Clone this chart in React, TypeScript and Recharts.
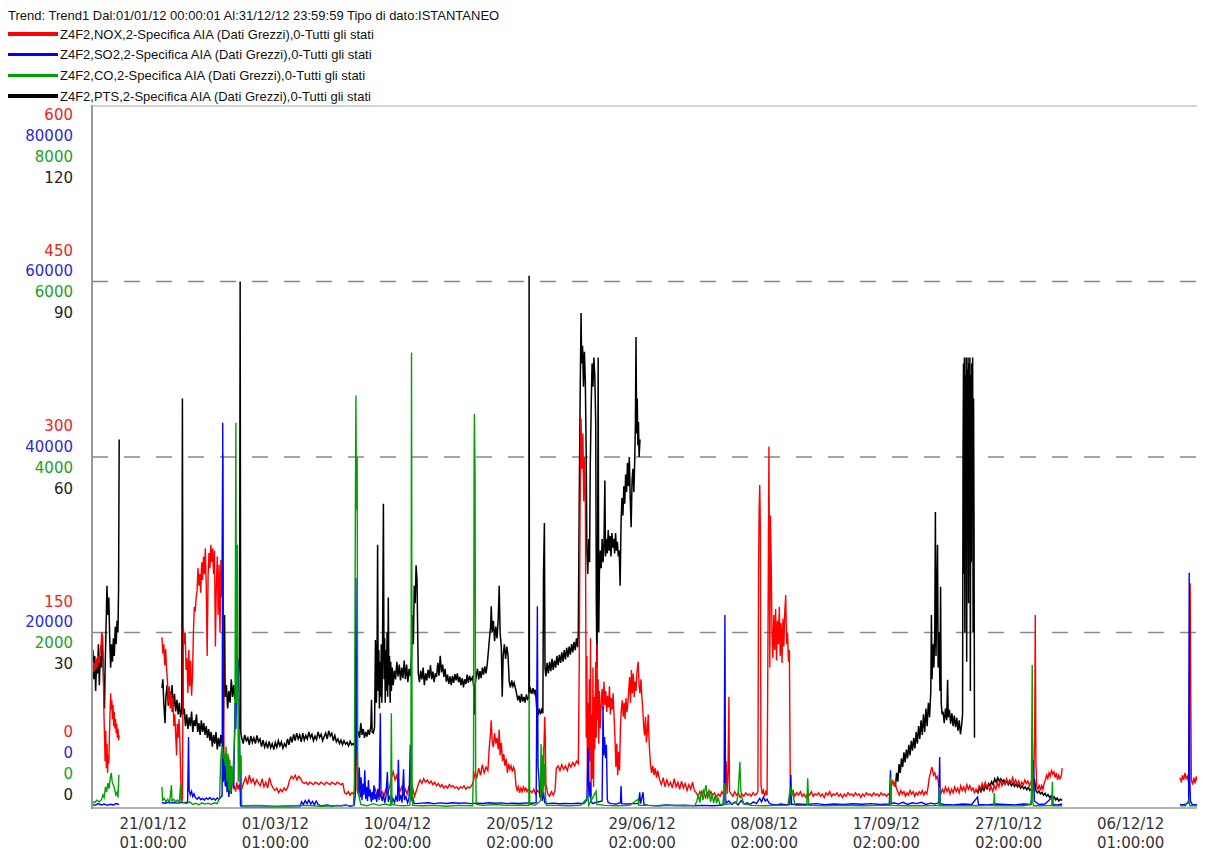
import React from 'react';
import { LineChart, Line, XAxis, YAxis, ReferenceLine } from 'recharts';

type Pt = [number, number | null];

// x axis: day of the year 2012 (0 = 01/01 00:00)
const tickDays = [20.04, 60.04, 100.08, 140.08, 180.08, 220.08, 260.08, 300.08, 340.04];
const tickDates = ['21/01/12', '01/03/12', '10/04/12', '20/05/12', '29/06/12', '08/08/12', '17/09/12', '27/10/12', '06/12/12'];
const tickTimes = ['01:00:00', '01:00:00', '02:00:00', '02:00:00', '02:00:00', '02:00:00', '02:00:00', '02:00:00', '01:00:00'];

// y axis labels, one scale per series
const noxTicks = [0, 150, 300, 450, 600];
const so2Ticks = [0, 20000, 40000, 60000, 80000];
const coTicks = [0, 2000, 4000, 6000, 8000];
const ptsTicks = [0, 30, 60, 90, 120];

const legendNames = [
  'Z4F2,NOX,2-Specifica AIA (Dati Grezzi),0-Tutti gli stati',
  'Z4F2,SO2,2-Specifica AIA (Dati Grezzi),0-Tutti gli stati',
  'Z4F2,CO,2-Specifica AIA (Dati Grezzi),0-Tutti gli stati',
  'Z4F2,PTS,2-Specifica AIA (Dati Grezzi),0-Tutti gli stati',
];

const ptsData: Pt[] = [
  [0,24],[0.3,27],[0.6,22],[0.9,26],[1.2,20],[1.5,25],[1.8,23],[2.1,28],[2.4,21],[2.7,26],[3,24],[3.3,29],[3.6,25],[3.9,20],[4.1,17],[4.3,24],[4.6,31],[4.9,38],[5.2,33],[5.5,36],[5.8,29],[6.1,24],[6.4,28],[6.7,25],[7,29],[7.3,26],[7.6,31],[7.9,28],[8.2,32],[8.5,30],[8.7,37.5],[8.9,63],[9.2,null],
  [22.9,20.5],[23.2,22],[23.5,18],[23.9,14.5],[24.2,19],[24.6,21],[25,17.5],[25.4,20],[25.8,18],[26.2,21],[26.6,17],[27,19.5],[27.4,16.5],[27.8,18.5],[28.2,16],[28.6,18],[29,15.5],[29.4,17],[29.6,70],[29.8,16],
  [30.2,17],[30.6,14],[31,16],[31.4,13.5],[31.8,15.5],[32.2,14],[32.6,16.5],[33,13],[33.4,15],[33.8,14],[34.2,16],[34.6,13],[35,14.5],[35.4,12.5],[35.8,15],[36.2,13],[36.6,14.5],[37,12.5],[37.4,14],[37.8,12],[38.2,13.5],[38.6,11.5],[39,13],[39.4,10.5],[39.8,12.5],
  [40.2,11],[40.6,13],[41,10],[41.4,12],[41.8,10.5],[42.2,12.5],[42.6,11],
  [43,14],[43.4,33],[43.6,19],[44,21],[44.4,17],[44.8,20],[45.2,18],[45.6,22],[46,19],[46.4,21],[46.8,18.5],[47.2,22],[47.6,20],[48,23],[48.3,25],[48.5,90],[48.7,13],
  [49,12],[49.5,11],[50,12.5],[50.5,11.5],[51,12],[51.5,10.8],[52,12.3],[52.5,11.2],[53,12],[53.5,11],[54,12.4],[54.5,11.3],[55,11.8],[55.5,10.5],[56,11.6],[56.5,10.4],[57,11.2],[57.5,10.2],[58,11.4],[58.5,10.3],[59,11],[59.5,10],[60,11.2],[60.5,10.4],[61,11.5],[61.5,10.6],[62,11.3],[62.5,10.2],[63,11],[63.5,10.5],[64,11.8],[64.5,10.8],[65,12.2],[65.5,11.2],[66,12.6],[66.5,11.5],[67,12.8],[67.5,11.8],[68,12.5],[68.5,11.3],[69,12.8],[69.5,11.6],[70,12.4],[70.5,11.8],[71,13],[71.5,12],[72,12.6],[72.5,11.5],[73,12.3],[73.5,11.7],[74,13],[74.5,12.1],[75,12.6],[75.5,11.5],[76,12.2],[76.5,12.8],[77,11.8],[77.5,13.2],[78,12.3],[78.5,12.8],[79,11.5],[79.5,12.4],[80,11.3],[80.5,11.8],[81,11],[81.5,11.6],[82,10.8],[82.5,11.5],[83,10.9],[83.5,11.2],[84,10.6],[84.5,11.4],[85,10.8],[85.5,11],[86,10.6],[86.4,11.2],[86.6,26],[86.8,13],
  [87.2,13],[87.6,12],[88,14.5],[88.4,12.5],[88.8,13.5],[89.2,12],[89.6,13],[90,12.2],[90.4,13.4],[90.8,12.5],[91.3,14],[91.5,18.5],[91.7,13],[92.1,12.8],[92.5,13.8],[92.8,28.7],
  [93.1,18],[93.3,24],[93.5,45],[93.7,20],[93.9,27],[94.1,17],[94.3,25],[94.5,19],[94.7,28],[94.9,18],[95.1,26],[95.4,52],[95.6,22],[95.8,29],[96,18],[96.2,27],[96.4,20],[96.6,30],[96.8,19],[97,36],[97.2,21],[97.4,26],[97.6,18],[97.8,25],[98,20],[98.3,24],[98.6,21],
  [99,23.5],[99.4,22],[99.8,25],[100.2,22.5],[100.6,24.5],[101,21.8],[101.4,24],[101.8,22.2],[102.2,25.2],[102.6,22],[103,24.5],[103.4,21.5],[103.8,23.8],[104.2,22.5],[104.6,26],
  [104.9,33],[105.2,28],[105.5,38],[105.8,35],[106.1,41.5],[106.4,39],
  [106.8,23],[107.2,21.5],[107.6,23.5],[108,22],[108.4,24],[108.8,21],[109.2,23],[109.6,21.8],[110,23.6],[110.4,22.2],[110.8,24.4],[111.2,22],[111.6,23.3],[112,21.5],[112.4,23],[112.8,22.4],[113.2,24.8],[113.6,22.6],[114,26],[114.4,23.2],[114.8,24.5],[115.2,22.4],[115.6,23.8],[116,21.6],[116.4,22.8],[116.8,21.2],[117.2,22.5],[117.6,21],[118,22.6],[118.4,21.4],[118.8,22.9],[119.2,21.8],[119.6,23],[120,21.5],[120.4,22.4],[120.8,21],[121.2,22.2],[121.6,20.6],[122,22],[122.4,21.2],[122.8,22.8],[123.2,21.4],[123.6,22.6],[124,21.8],
  [124.6,22.4],[125,20.5],[125.2,16],[125.4,21],
  [125.8,22.6],[126.2,23.8],[126.6,22],[127,23.4],[127.4,22.2],[127.8,24],[128.2,22.8],[128.6,24.2],[129,23],[129.4,24.6],
  [129.8,27],[130.2,29.5],[130.5,31],[130.7,34.5],[131,30],[131.4,32],[131.8,28.5],[132.2,31],[132.6,29],[133,32.5],[133.3,38],[133.6,30],[134,27.5],[134.3,19],[134.6,26],[135,28],[135.4,25.5],[135.8,27.6],[136.2,26],
  [136.6,21.5],[137,20.6],[137.4,21.8],[137.8,20.8],[138.2,21.4],[138.6,20.5],
  [139,19.6],[139.4,18.4],[139.8,19.2],[140.2,18],[140.6,19.5],[141,18.2],[141.4,19],[141.8,18],[142.2,19.4],[142.6,18.6],[143,18.9],[143.1,91],[143.2,19.5],
  [143.6,20.3],[144,19.5],[144.4,20.5],[144.8,19.6],[145.2,20.2],
  [145.6,16.8],[146,15.8],[146.4,17],[146.8,16],[147.2,16.8],[147.6,16.2],[147.8,39.7],[148.1,48.7],[148.3,24],
  [148.6,22.5],[149,24.8],[149.4,23],[149.8,25],[150.2,23.4],[150.6,25.5],[151,23.6],[151.4,25.2],[151.8,24],[152.2,26],[152.6,24.4],[153,26.2],[153.4,24.8],[153.8,26.6],[154.2,25],[154.6,27],[155,25.4],[155.4,27.4],[155.8,25.8],[156.2,27.6],[156.6,26.2],[157,28],[157.4,26.6],[157.8,28.4],[158.2,27],[158.6,29],[159,27.5],
  [159.2,30],[159.5,52],[159.8,70],[160.1,84.6],[160.3,76],[160.6,79],[160.9,72],[161.2,78],[161.5,73],[161.8,60],[162,44],[162.3,40],[162.6,46],[162.9,42],[163.1,58],[163.4,68],[163.7,76],[164,72],[164.3,77],[164.6,74],[164.9,66],[165.1,35],[165.3,24],[165.5,38],[165.7,77],[165.9,30],[166.1,40],[166.4,44],[166.7,41],[167,46],[167.3,42],[167.6,45],[167.9,56],[168.1,43],[168.4,46],[168.7,43.5],[169,47.5],[169.3,44],[169.6,46.5],[169.9,43],[170.2,47],[170.5,44.5],[170.8,46],[171.1,43.5],[171.4,47],[171.7,44],[172,45.5],[172.3,43],[172.6,44],[172.9,38],[173.2,49],[173.5,53],[173.8,50],[174.1,55],[174.4,52],[174.7,57],[175,54],[175.3,59],[175.6,55],[175.9,60],[176.2,53],[176.5,48],[176.8,56],[177.1,58],[177.4,54],[177.7,60],[177.9,66],[178.1,80.5],[178.3,64],[178.5,70],[178.7,62],[178.9,66],[179.1,60],[179.4,63],[179.6,null],
  [262.7,4.3],[263,3.6],[263.4,6],[263.8,4.5],[264.2,7.5],[264.6,6],[265,8.5],[265.4,7],[265.8,9.5],[266.2,7.8],[266.6,10],[267,8.5],[267.4,10.8],[267.8,9],[268.2,11.5],[268.6,9.8],[269,12],[269.4,10.2],[269.8,13],[270.2,11],[270.6,14],[271,11.8],[271.4,15],[271.8,12.5],[272.2,16],[272.6,13],[273,17],[273.4,14],[273.8,18],[274.2,15.5],
  [274.6,20],[274.8,33],[275,22],[275.3,28],[275.6,24],[275.9,30],[276.1,50.6],[276.3,26],[276.5,34],[276.8,45],[277,24],[277.3,30],[277.6,20],[277.8,37.8],[278,18],[278.3,16],
  [278.6,16.5],[279,14.5],[279.4,17],[279.8,15],[280.1,21.9],[280.3,15.5],[280.7,16.8],[281.1,14.4],[281.5,16.2],[281.9,14],[282.3,15.8],[282.7,13.8],[283.1,15.4],[283.5,13.2],[283.9,15],[284.3,12.6],[284.7,14.2],
  [285,16],[285.15,60],[285.3,76],[285.45,40],[285.6,77],[285.75,30],[285.9,74],[286.05,45],[286.2,77],[286.35,25],[286.5,75],[286.65,50],[286.8,77],[286.95,35],[287.1,76],[287.25,55],[287.4,77],[287.55,20],[287.7,74],[287.85,42],[288,76],[288.15,58],[288.3,77],[288.45,30],[288.6,70],[288.75,48],[288.9,12],[289.1,null],
  [289.5,3],[290,2.6],[290.5,3.4],[291,2.8],[291.5,3.6],[292,3],[292.5,3.8],[293,3.3],[293.5,4.2],[294,3.8],
  [294.5,4.5],[295,4],[295.5,5],[296,4.4],[296.5,5.2],[297,4.6],[297.5,5],[298,4.5],[298.5,4.8],
  [299,4.2],[299.5,4.6],[300,4],[300.5,4.4],[301,3.8],[301.5,4.3],[302,3.7],[302.5,4.1],[303,3.6],[303.5,4],[304,3.4],[304.5,3.8],[305,3.3],[305.5,3.6],[306,3.1],[306.5,3.5],[307,3],[307.5,3.3],[308,2.9],[308.5,5],
  [309,3],[309.5,2.6],[310,2.9],[310.5,2.4],[311,2.7],[311.5,2.2],[312,2.5],[312.5,2],[313,2.3],[313.5,1.8],[314,2.1],[314.5,1.6],[315,1.9],[315.5,1.4],[316,1.7],[316.5,1.2],[317,1.5],[317.6,1.3],
];

const noxData: Pt[] = [
  [0,120],[0.3,126],[0.6,116],[0.9,124],[1.2,118],[1.5,128],[1.8,120],[2.1,130],[2.4,124],[2.7,135],[3,140],[3.2,150],[3.5,146],[3.7,120],[3.9,82],[4.1,60],[4.3,40],[4.5,66],[4.7,34],[4.9,55],[5.1,30],[5.3,45],[5.5,38],[5.7,62],[5.9,80],[6.1,98],[6.3,84],[6.5,92],[6.7,76],[6.9,88],[7.1,70],[7.3,82],[7.5,68],[7.7,76],[7.9,64],[8.1,72],[8.3,60],[8.5,68],[8.7,58],[8.9,62],[9.1,null],
  [22.9,146],[23.2,132],[23.5,140],[23.8,122],[24.1,136],[24.4,120],
  [24.7,108],[25,90],[25.3,104],[25.6,85],[25.9,98],[26.2,82],[26.5,95],
  [26.8,70],[27.1,80],[27.4,62],[27.7,45],[27.9,72],[28.2,60],[28.5,76],
  [28.8,55],[29.1,20],[29.3,5],[29.6,8],
  [29.9,154],[30.2,140],[30.5,150],[30.8,118],
  [31.1,128],[31.4,98],[31.7,135],[32,104],[32.3,126],[32.6,96],[32.9,112],[33.2,150],
  [33.5,172],[33.8,168],[34.1,180],
  [34.4,186],[34.7,205],[35,190],[35.3,200],[35.6,184],[35.9,210],[36.2,195],[36.5,215],
  [36.8,200],[37.1,222],[37.4,190],[37.7,130],[38,198],[38.3,218],[38.6,205],[38.9,225],[39.2,210],[39.5,222],[39.8,200],[40.1,220],[40.4,138],[40.7,190],
  [41,215],[41.3,165],[41.6,208],[41.9,150],[42.2,212],[42.5,180],[42.8,302],[43,150],
  [43.2,48],[43.4,25],[43.6,40],[43.8,18],[44.1,35],[44.4,22],[44.7,44],[45,28],[45.3,36],[45.6,16],[45.9,30],[46.2,20],
  [46.6,18],[47,14],[47.4,22],[47.8,16],[48.2,20],[48.6,14],[49,16],
  [49.7,22],[50.3,26],[50.9,20],[51.5,28],[52.1,22],[52.7,25],[53.3,20],[53.9,24],[54.5,21],[55.1,19],[55.7,25],[56.3,18],[56.9,22],[57.5,17],[58.1,26],[58.7,20],[59.3,17],[59.9,15],[60.5,17],[61.1,13],[61.7,16],[62.3,14],[62.9,17],[63.5,15],[64.1,18],[64.7,24],[65.3,27],[65.9,25],[66.5,28],[67.1,24],[67.7,27],[68.3,25],[68.9,22],[69.5,21],[70.1,22],[70.7,20],[71.3,22],[71.9,21],[72.5,20],[73.1,22],[73.7,21],[74.3,20],[74.9,22],[75.5,21],[76.1,20],[76.7,22],[77.3,21],[77.9,20],[78.5,22],[79.1,21],[79.7,20],[80.3,22],[80.9,21],[81.5,20],[82.1,21],[82.7,13],[83.3,12],[83.9,14],[84.5,11],[85.1,13],[85.7,12],[86.2,14],[86.4,105],[86.6,100],[86.8,15],
  [87.2,12],[87.8,16],[88.4,10],[89,14],[89.6,18],[90.2,11],[90.8,15],[91.4,9],[92,13],[92.6,17],[93.2,12],[93.8,15],[94.4,10],[95,14],[95.6,11],[96.2,16],[96.8,12],
  [97.4,18],[98,26],[98.6,31],[99.2,24],[99.8,28],[100.3,20],
  [100.8,14],[101.4,18],[102,11],[102.6,16],[103.2,12],[103.8,19],[104.4,13],[105,17],[105.6,10],[106.2,15],
  [106.8,20],[107.4,24],[108,21],[108.6,25],[109.2,22],[109.8,24],[110.4,21],[111,23],[111.6,20],[112.2,22],[112.8,19],[113.4,21],[114,18],[114.6,20],[115.2,17],[115.8,19],[116.4,17],[117,20],[117.6,18],[118.2,19],[118.8,17],[119.4,18],[120,16],[120.6,18],[121.2,17],[121.8,19],[122.4,16],[123,18],[123.6,17],[124.2,19],
  [124.8,22],[125.4,30],[126,26],[126.6,34],[127.2,28],[127.8,37],[128.4,30],[129,35],[129.6,32],
  [130,50],[130.4,62],[130.7,75],[131,58],[131.4,52],[131.8,64],[132.2,55],[132.6,60],[133,50],[133.3,67],[133.6,45],[134,56],
  [134.4,40],[134.8,46],[135.2,36],[135.6,42],[136,30],
  [136.4,38],[136.8,33],[137.2,36],[137.6,31],[138,35],[138.4,32],
  [138.8,19],[139.2,15],[139.6,18],[140,13],[140.4,17],[140.8,14],[141.2,18],[141.6,15],[142,17],[142.4,14],[142.8,16],
  [143.4,15],[144,13],[144.6,16],[145.2,12],[145.8,15],[146.4,13],[147,16],[147.6,14],[148.2,78],[148.4,60],[148.6,20],
  [149.2,12],[149.8,10],[150.4,14],[151,11],[151.6,15],
  [152,34],[152.6,36],[153.2,32],[153.8,37],[154.4,33],[155,36],[155.6,32],[156.2,38],[156.8,35],[157.4,39],[158,36],[158.6,40],[159.2,38],
  [159.5,120],[159.8,260],[160.1,333],[160.4,290],[160.7,320],[161,262],[161.3,300],[161.5,270],[161.8,60],[162,130],[162.2,20],[162.4,90],
  [162.6,15],[162.8,110],[163,40],[163.2,145],[163.4,10],[163.6,80],[163.8,25],[164,120],[164.2,18],[164.4,95],[164.6,50],
  [164.9,125],[165.1,60],[165.3,140],[165.5,75],[165.7,110],[165.9,55],[166.1,100],[166.4,68],
  [166.7,90],[167,102],[167.3,84],[167.6,108],[167.9,88],[168.2,100],[168.5,82],[168.8,96],[169.1,86],[169.4,104],[169.7,80],[170,94],[170.3,84],[170.6,98],[170.9,79],
  [171.2,60],[171.5,35],[171.8,55],[172.1,28],[172.4,48],[172.7,32],[173,70],
  [173.3,85],[173.6,92],[173.9,78],[174.2,90],[174.5,76],[174.8,94],[175.1,82],[175.4,88],
  [175.7,100],[176,112],[176.3,90],[176.6,118],[176.9,98],[177.2,115],[177.5,95],[177.8,108],[178.1,100],[178.4,116],[178.8,125],[179.1,105],[179.4,98],
  [179.7,110],[180,96],[180.3,85],[180.6,70],[180.9,62],[181.2,78],[181.5,56],[181.8,66],[182.1,80],[182.4,55],
  [182.8,38],[183.2,30],[183.6,36],[184,28],[184.4,34],[184.8,26],[185.2,32],
  [185.8,24],[186.4,20],[187,26],[187.6,18],[188.2,24],[188.8,19],[189.4,22],[190,17],[190.6,25],[191.2,18],[191.8,22],[192.4,16],[193,23],[193.6,17],[194.2,21],[194.8,15],[195.4,20],[196,16],[196.6,22],[197.2,15],
  [197.8,13],[198.4,10],[199,14],[199.6,11],[200.2,15],[200.8,9],[201.4,13],[202,10],[202.6,14],[203.2,11],[203.8,13],[204.4,9],[205,12],[205.6,10],[206.2,14],[206.8,11],
  [207.2,13],[207.6,40],[207.9,12],[208.2,30],[208.5,95],[208.7,14],
  [209.2,12],[209.8,10],[210.4,14],[211,11],[211.6,13],[212.2,9],[212.8,12],[213.4,10],[214,13],[214.6,11],[215.2,12],[215.8,10],[216.4,13],[217,11],[217.6,12],
  [218,14],[218.2,200],[218.4,255],[218.6,276],[218.8,240],[219,20],[219.4,12],[219.8,15],[220.2,10],[220.6,14],[221,11],[221.3,150],[221.6,309],[221.9,120],[222.1,250],[222.2,233],[222.4,200],
  [222.6,150],[222.9,128],[223.2,165],[223.5,135],[223.8,170],[224.1,126],[224.4,160],[224.7,140],[225,172],[225.3,130],[225.6,158],[225.9,124],[226.2,162],[226.5,138],[226.8,168],[227.1,182],[227.4,140],[227.7,150],[228,125],[228.3,135],
  [228.6,20],[228.9,12],[229.5,15],[230.1,10],[230.7,13],[231.3,11],[231.9,14],[232.5,10],[233.1,12],[233.7,9],[234.3,13],[234.9,11],[235.5,14],[236.1,10],[236.7,12],[237.3,11],[237.9,13],[238.5,10],[239.1,12],[239.7,9],[240.3,13],[240.9,11],[241.5,14],[242.1,10],[242.7,12],[243.3,11],[243.9,13],[244.5,10],[245.1,12],[245.7,9],[246.3,12],[246.9,10],[247.5,13],[248.1,11],[248.7,12],[249.3,10],[249.9,13],[250.5,11],[251.1,12],[251.7,9],[252.3,12],[252.9,10],[253.5,13],[254.1,11],[254.7,12],[255.3,10],[255.9,13],[256.5,11],[257.1,12],[257.7,10],[258.3,13],[258.9,11],[259.5,12],[260.1,10],[260.7,12],[261.3,11],
  [261.7,18],[262.1,24],[262.5,20],[262.9,22],[263.3,17],[263.8,14],[264.3,11],[264.8,15],[265.3,12],[265.8,14],[266.3,10],[266.8,13],[267.3,11],[267.8,15],[268.3,12],[268.8,14],[269.3,10],[269.8,13],[270.3,11],[270.8,14],[271.3,12],[271.8,15],[272.3,11],[272.8,14],[273.3,12],
  [273.7,18],[274.1,26],[274.5,30],[274.9,35],[275.2,32],[275.5,28],[275.9,30],[276.3,25],[276.7,27],[277.1,22],[277.5,14],
  [277.9,12],[278.4,16],[278.9,13],[279.4,18],[279.9,14],[280.4,17],[280.9,12],[281.4,16],[281.9,13],[282.4,18],[282.9,14],[283.4,17],[283.9,13],[284.4,19],[284.9,15],[285.4,18],[285.9,14],[286.4,20],[286.9,16],[287.4,19],[287.9,15],[288.4,17],[288.9,13],[289.4,16],
  [289.9,14],[290.4,19],[290.9,16],[291.4,21],[291.9,17],[292.4,22],[292.9,18],[293.4,20],[293.9,15],[294.4,18],[294.9,14],[295.4,19],[295.9,16],[296.4,22],[296.9,18],[297.4,24],[297.9,19],[298.4,22],
  [298.9,20],[299.4,25],[299.9,21],[300.4,24],[300.9,22],[301.4,26],[301.9,21],[302.4,24],[302.9,20],[303.4,23],[303.9,19],[304.4,22],[304.9,20],[305.4,24],[305.9,21],[306.4,23],[306.9,19],[307.4,22],
  [308.2,20],[308.6,60],[308.8,165],[309,40],[309.3,18],
  [309.7,16],[310.1,20],[310.5,15],[310.9,19],[311.3,16],[311.7,21],
  [312.1,24],[312.5,28],[312.9,25],[313.3,30],[313.7,27],[314.1,32],[314.5,29],[314.9,31],[315.3,26],[315.7,30],
  [316.1,24],[316.5,28],[316.9,25],[317.3,27],[317.6,34],[317.9,null],
  [356.2,26],[356.6,22],[357,28],[357.4,24],[357.8,30],[358.2,25],[358.6,27],[359,22],[359.3,120],[359.5,192],[359.7,100],[359.9,24],[360.3,20],[360.7,26],[361.1,21],[361.5,27],[361.9,23],[362.3,25],[362.7,20],[363.1,24],[363.5,22],[364,25],[364.5,21],[365,24],[365.5,22],[366,23],
];

const so2Data: Pt[] = [
  [0,400],[1,300],[2,500],[3,350],[4,450],[5,300],[6,420],[7,350],[8,500],[8.8,400],[9.1,null],
  [22.9,600],[24,550],[25,650],[26,580],[27,620],[28,560],[29,640],[30,600],[31.3,650],[31.6,8100],[31.8,2000],[32.2,1500],[32.6,1900],[33,1300],[33.4,1600],[33.8,1200],[34.4,1000],[35,1250],[35.6,950],[36.2,1100],[36.8,900],[37.4,1150],[38,1000],[38.6,1200],[39.2,950],[39.8,1100],[40.4,900],[41,1150],[41.6,1000],[42.2,1250],[42.6,1400],[42.8,43900],[43,3000],[43.3,5800],[43.6,2500],[43.9,4500],[44.2,1800],[44.5,3800],[44.8,1250],[45.2,3000],[45.6,1600],[46,4200],[46.4,2200],[46.8,12000],[47.1,9000],[47.4,16500],[47.7,14000],[48,17000],[48.3,8000],[48.6,300],
  [49,100],[55,80],[60,120],[65,90],[68,100],
  [68.6,700],[69.2,400],[69.8,850],[70.4,500],[71,900],[71.6,450],[72.2,750],[72.8,350],[73.4,800],[74,420],[74.6,300],
  [75.5,250],[77,350],[78.5,200],[80,300],[81.5,250],[83,350],[84.5,200],[85.8,300],
  [86.2,1500],[86.4,26200],[86.6,8000],
  [86.9,4900],[87.2,1800],[87.5,4600],[87.8,1200],[88.1,3500],[88.4,900],[88.7,2800],[89,1500],[89.3,4300],[89.6,1000],[89.9,2400],[90.2,800],[90.5,3200],[90.8,1300],[91.1,2100],[91.4,700],[91.7,1800],[92,900],[92.3,2600],[92.6,1000],[92.9,1600],
  [93.2,700],[93.6,2200],[94,900],[94.4,10800],[94.6,1500],
  [95,800],[95.4,1600],[95.8,600],[96.2,1200],[96.7,4100],[97,700],[97.5,1400],[98,500],[98.5,1100],[99,600],[99.5,1300],[100,700],[100.3,5500],[100.6,800],[101,1500],[101.5,600],[102,4400],[102.3,900],[102.8,1300],[103.3,600],[103.8,1100],[104.2,7200],[104.5,900],[105,1200],[105.5,500],
  [106,500],[108,550],[110,600],[112,500],[114,580],[116,520],[118,600],[120,540],[122,580],[124,500],[126,560],[128,520],[130,600],[132,550],[134,580],[136,500],[138,560],[140,520],[142,580],[144,540],[145.4,600],
  [145.8,23000],[146,4900],[146.3,3500],[146.6,1200],[147,2500],[147.4,800],[147.8,1800],[148.2,600],
  [149,500],[151,550],[153,480],[155,520],[157,500],[159,540],[161,500],
  [162,900],[162.4,6800],[162.7,1200],[163,3000],[163.4,700],[164,500],[164.6,600],
  [167,800],[167.3,11600],[167.5,6000],[167.8,8100],[168.1,5700],[168.4,7200],[168.7,1000],[169,600],
  [170,500],[171.5,450],[173,600],[173.2,2500],[173.4,500],[175,450],[177,500],
  [178.9,500],[179.3,1800],[179.6,500],[180.4,1800],[180.7,400],
  [182,300],[185,250],[188,350],[191,280],[194,320],[197,250],[200,300],[203,260],[206,320],
  [206.9,400],[207.2,22000],[207.4,1000],[207.7,600],
  [208.5,800],[209.5,400],[210.5,700],[211.5,350],[212.5,850],[213.5,450],[214.5,600],[215.5,400],[216.5,700],[217.5,500],
  [218.6,1100],[219.2,700],[219.8,1250],[220.4,800],[221,1000],[221.6,600],
  [222.5,400],[224,350],[225.5,450],[227,380],[228.4,400],[228.8,3800],[229,400],
  [231,450],[234,400],[237,500],[240,380],[243,450],[246,400],[249,480],[252,420],[255,500],[258,400],[261,450],
  [261.4,4300],[261.6,500],
  [262.5,600],[264,450],[265.5,650],[267,400],[268.5,600],[270,500],[271.5,650],[273,400],[274.5,550],[276,450],[277.2,600],
  [277.5,5800],[277.7,500],
  [279,400],[282,350],[285,450],[288,400],[289.9,1250],[290.2,400],[293,350],[296,450],[299,400],[302,350],[305,450],[307.3,400],
  [307.8,1500],[308.2,5500],[308.5,800],
  [310,400],[312,450],[314.4,1250],[314.6,400],[316,350],[317.6,450],[317.9,null],
  [356.2,400],[357,350],[358,450],[359,600],[359.2,26800],[359.4,3000],[359.6,800],[360.2,400],[361.5,350],[363,450],[364.5,400],[366,350],
];

const coData: Pt[] = [
  [0,80],[0.8,60],[1.6,90],[2.4,70],[3.2,100],[3.6,150],[4,120],[4.4,240],[4.8,180],[5.2,285],[5.6,220],[6,350],[6.3,400],[6.6,300],[7,260],[7.4,220],[7.8,150],[8.2,180],[8.5,120],[8.8,380],[9.1,null],
  [22.9,240],[23.1,90],[23.6,110],[24.2,70],[24.8,100],[25.4,60],[26,260],[26.2,80],[26.8,100],[27.4,70],[28,90],[28.6,60],[29,270],[29.2,80],[30,60],[31,50],[32,70],[33,40],[34,55],[35,35],[36,60],[37,45],[38,55],[39,40],[40,60],[41,50],[41.8,120],
  [42.1,520],[42.4,650],[42.7,700],[43,560],[43.3,620],
  [43.6,480],[43.9,700],[44.2,300],[44.5,620],[44.8,200],[45.1,550],[45.4,170],[45.7,480],[46,250],[46.4,600],
  [46.8,900],[47.1,4390],[47.3,1200],[47.6,3000],[47.9,300],[48.2,900],[48.5,400],[48.8,600],[49,25],
  [50,25],[55,30],[60,20],[65,25],[70,30],[75,20],[80,25],[85.6,30],
  [85.9,300],[86.2,3200],[86.4,4700],[86.6,3400],[86.8,4000],[87,200],
  [88,40],[90,25],[92,50],[94,30],[96,45],[97.8,30],
  [98,1080],[98.2,40],
  [100,30],[102,25],[104,30],
  [104.4,200],[104.6,5190],[104.8,300],[105,30],
  [108,25],[112,30],[116,20],[120,30],[124.6,25],
  [124.9,490],[125.1,4000],[125.2,4490],[125.4,3800],[125.6,450],[125.8,40],
  [128,30],[132,40],[136,30],[140,35],[143,30],[143.1,1320],[143.3,40],[145,30],[146.8,80],[147,730],[147.2,200],[147.4,600],[147.6,150],[147.8,700],[148,250],[148.2,500],[148.5,100],[148.8,30],
  [152,30],[156,25],[160,30],[162.4,125],[162.6,30],[165,190],[165.3,40],[168,30],[172,25],[176,30],[178.8,100],[179,30],
  [182,30],[186,25],[190,30],[194,25],[197.4,30],
  [198,80],[198.5,150],[199,60],[199.5,200],[200,90],[200.5,180],[201,260],[201.5,100],[202,210],[202.5,70],[203,160],[203.5,55],[204,140],[204.5,60],[205,120],[205.5,40],
  [206.5,40],[207.2,285],[207.5,40],
  [211,60],[211.5,150],[212.1,525],[212.4,200],[212.8,120],[213.3,50],
  [216,30],[220,25],[224,30],[227.8,30],
  [228.2,125],[228.6,240],[229,130],[229.4,200],[229.8,90],[230.2,30],
  [234,30],[234.3,340],[234.6,30],
  [240,25],[246,30],[252,25],[258,30],[261.2,30],[261.4,350],[261.6,30],
  [266,25],[272,25],[277.3,30],[277.5,240],[277.7,25],
  [284,25],[290,25],[295.2,30],[295.4,170],[295.6,25],
  [300,25],[305,25],[307.5,40],[307.8,1630],[308,60],[308.3,25],
  [311,25],[314.2,30],[314.4,300],[314.6,25],[317.6,25],[317.9,null],
  [356.2,25],[358,25],[359.2,100],[359.4,25],[362,25],[366,25],
];

const toRows = (pts: Pt[]) => pts.map(([day, value]) => ({ day, value }));

const COLORS = { nox: '#ff0000', so2: '#0000ff', co: '#00a000', pts: '#000000' };
const LABEL_COLORS = ['#ee2222', '#2a2ad8', '#22a022', '#222222'];
const legendColors = [COLORS.nox, COLORS.so2, COLORS.co, COLORS.pts];

const axisFont = '"DejaVu Sans", Verdana, sans-serif';

// four stacked labels per gridline (NOX / SO2 / CO / PTS)
const YTick = (props: any) => {
  const { y, index } = props;
  const labels = [noxTicks[index], so2Ticks[index], coTicks[index], ptsTicks[index]];
  let offsets = [-31, -10.5, 10.5, 31.5];
  if (index === 0) offsets = [-76, -55, -34, -13];
  if (index === noxTicks.length - 1) offsets = [9, 30, 51, 72];
  return (
    <g>
      {labels.map((l, i) => (
        <text key={i} x={65} y={y + offsets[i]} dy={5} textAnchor="end"
          fill={LABEL_COLORS[i]} fontSize={15} fontFamily={axisFont}>
          {l}
        </text>
      ))}
    </g>
  );
};

const XTick = (props: any) => {
  const { x, index } = props;
  return (
    <g>
      <text x={x} y={821} textAnchor="middle" fill="#333" fontSize={15} fontFamily={axisFont}>{tickDates[index]}</text>
      <text x={x} y={840} textAnchor="middle" fill="#333" fontSize={15} fontFamily={axisFont}>{tickTimes[index]}</text>
    </g>
  );
};

export default function App() {
  return (
    <div style={{ position: 'relative', width: 1197, height: 844, overflow: 'hidden', background: '#fff' }}>
      <LineChart width={1250} height={844} margin={{ top: 98, right: 48, bottom: 0, left: 0 }}>
        <XAxis xAxisId={0} type="number" dataKey="day" domain={[0, 366]} ticks={tickDays}
          allowDataOverflow height={44} axisLine={{ stroke: '#999', strokeWidth: 1.5 }}
          tickLine={false} tick={(p: any) => <XTick {...p} />} interval={0} />
        <YAxis yAxisId="nox" type="number" domain={[0, 600]} ticks={noxTicks} width={84}
          allowDataOverflow axisLine={false} tickLine={false}
          tick={(p: any) => <YTick {...p} />} interval={0} />
        <YAxis yAxisId="so2" type="number" domain={[0, 80000]} allowDataOverflow hide width={0} />
        <YAxis yAxisId="co" type="number" domain={[0, 8000]} allowDataOverflow hide width={0} />
        <YAxis yAxisId="pts" type="number" domain={[0, 120]} allowDataOverflow hide width={0} />
        <ReferenceLine yAxisId="nox" y={600} stroke="#aaa" strokeWidth={1.2} />
        {noxTicks.slice(1, -1).map((t) => (
          <ReferenceLine key={t} yAxisId="nox" y={t} stroke="#888" strokeWidth={1.5} strokeDasharray="16 16" />
        ))}
        <Line yAxisId="pts" data={toRows(ptsData)} dataKey="value" stroke={COLORS.pts} strokeWidth={1.5}
          dot={false} isAnimationActive={false} />
        <Line yAxisId="nox" data={toRows(noxData)} dataKey="value" stroke={COLORS.nox} strokeWidth={1.4}
          dot={false} isAnimationActive={false} />
        <Line yAxisId="so2" data={toRows(so2Data)} dataKey="value" stroke={COLORS.so2} strokeWidth={1.4}
          dot={false} isAnimationActive={false} />
        <Line yAxisId="co" data={toRows(coData)} dataKey="value" stroke={COLORS.co} strokeWidth={1.4}
          dot={false} isAnimationActive={false} />
      </LineChart>

      {/* left frame of the plot area */}
      <div style={{ position: 'absolute', left: 83.25, top: 97, width: 1.5, height: 704, background: '#999' }} />

      <div style={{ position: 'absolute', left: 0, top: 0, fontFamily: '"Liberation Sans", Arial, sans-serif', fontSize: 13, color: '#111' }}>
        <div style={{ position: 'absolute', left: 0, top: 0, whiteSpace: 'nowrap', lineHeight: '15px' }}>
          Trend: Trend1 Dal:01/01/12 00:00:01 Al:31/12/12 23:59:59 Tipo di dato:ISTANTANEO
        </div>
        {legendNames.map((name, i) => (
          <div key={name} style={{ position: 'absolute', left: 0, top: 18.5 + i * 20.7, display: 'flex', alignItems: 'center', whiteSpace: 'nowrap', lineHeight: '15px' }}>
            <span style={{ display: 'inline-block', width: 50, height: 3.5, background: legendColors[i], marginRight: 2 }} />
            <span>{name}</span>
          </div>
        ))}
      </div>
    </div>
  );
}
